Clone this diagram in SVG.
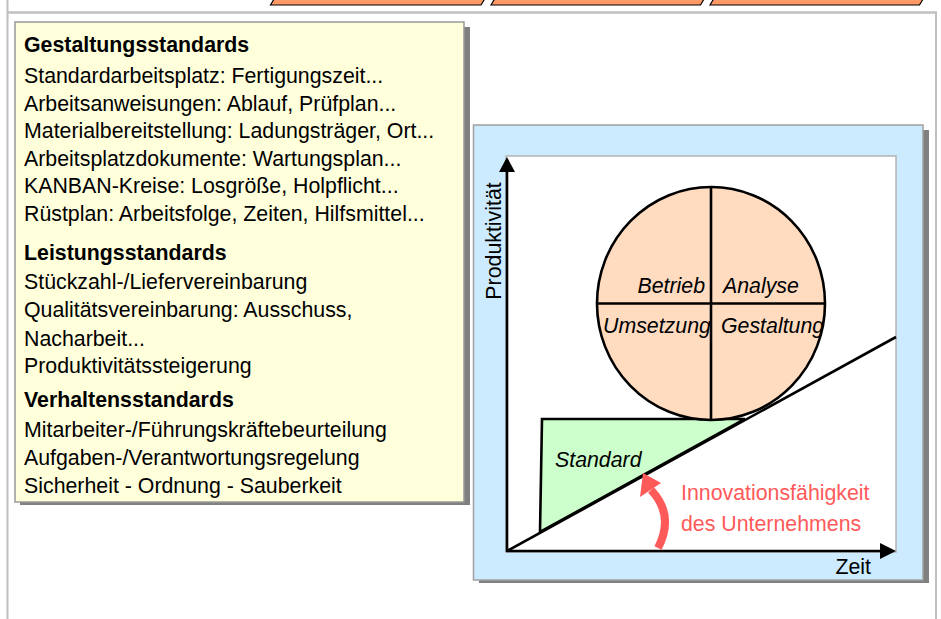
<svg xmlns="http://www.w3.org/2000/svg" width="941" height="619" viewBox="0 0 941 619">
<style>
  text { font-family: "Liberation Sans", Arial, Helvetica, sans-serif; font-size: 21.33px; fill: #000; }
  .b { font-weight: bold; }
  .i { font-style: italic; }
  .red { fill: #FF5A5A; }
  .tab { fill: #FF9966; stroke: #000; stroke-width: 1.2; }
  .shadow { fill: #808080; }
  .ln { stroke: #000; stroke-width: 2.6; fill: none; }
</style>
<defs>
  <marker id="ah" viewBox="0 0 10 10" refX="10" refY="5" markerWidth="6" markerHeight="6" orient="auto" markerUnits="userSpaceOnUse"><path d="M0,0 L10,5 L0,10 z" fill="#000"/></marker>
</defs>
<rect x="0" y="0" width="941" height="619" fill="#fff"/>

<!-- frame -->
<g id="frame" fill="none" stroke="#C0C0C0">
  <line x1="7" y1="12.5" x2="937" y2="12.5" stroke-width="2.6"/>
  <line x1="7.5" y1="0" x2="7.5" y2="619" stroke-width="2"/>
  <line x1="936" y1="12" x2="936" y2="619" stroke-width="2"/>
</g>

<!-- tabs -->
<g id="tabs">
  <polygon class="tab" points="270.5,5 481,5 487,-5 276.5,-5"/>
  <polygon class="tab" points="491,5 700.5,5 706.5,-5 497,-5"/>
  <polygon class="tab" points="710,5 919.5,5 925.5,-5 716,-5"/>
</g>

<!-- yellow standards box -->
<g id="standards">
  <rect class="shadow" x="20" y="27" width="450" height="478"/>
  <rect x="15" y="22" width="449" height="480" fill="#FFFFDC" stroke="#999" stroke-width="1.5"/>
  <text class="b" x="24" y="52">Gestaltungsstandards</text>
  <text x="24" y="83">Standardarbeitsplatz: Fertigungszeit...</text>
  <text x="24" y="110.5">Arbeitsanweisungen: Ablauf, Prüfplan...</text>
  <text x="24" y="138">Materialbereitstellung: Ladungsträger, Ort...</text>
  <text x="24" y="165.5">Arbeitsplatzdokumente: Wartungsplan...</text>
  <text x="24" y="193">KANBAN-Kreise: Losgröße, Holpflicht...</text>
  <text x="24" y="220.5">Rüstplan: Arbeitsfolge, Zeiten, Hilfsmittel...</text>
  <text class="b" x="24" y="260">Leistungsstandards</text>
  <text x="24" y="288.5">Stückzahl-/Liefervereinbarung</text>
  <text x="24" y="317">Qualitätsvereinbarung: Ausschuss,</text>
  <text x="24" y="345.5">Nacharbeit...</text>
  <text x="24" y="373">Produktivitätssteigerung</text>
  <text class="b" x="24" y="406.5">Verhaltensstandards</text>
  <text x="24" y="436.5">Mitarbeiter-/Führungskräftebeurteilung</text>
  <text x="24" y="464.5">Aufgaben-/Verantwortungsregelung</text>
  <text x="24" y="493">Sicherheit - Ordnung - Sauberkeit</text>
</g>

<!-- chart panel -->
<g id="chart-panel">
  <rect class="shadow" x="479" y="130" width="450" height="453"/>
  <rect x="473.5" y="125" width="449.5" height="455" fill="#CCEBFF" stroke="#A0A0A0" stroke-width="1.5"/>
  <rect x="506" y="156" width="390" height="396" fill="#fff" stroke="#B4B4B4" stroke-width="1.5"/>
</g>

<!-- standard wedge -->
<g id="standard">
  <polygon points="542,419 745,419 540,532" fill="#CCFFCC" stroke="#000" stroke-width="2.6" stroke-linejoin="miter"/>
  <text class="i" x="555" y="467">Standard</text>
</g>

<!-- PDCA circle -->
<g id="cycle">
  <ellipse cx="711" cy="303.5" rx="114" ry="116.5" fill="#FFDBC0" stroke="#000" stroke-width="2.6"/>
  <line class="ln" x1="597" y1="303.5" x2="825" y2="303.5"/>
  <line class="ln" x1="711" y1="187" x2="711" y2="420"/>
  <text class="i" x="705" y="293" text-anchor="end">Betrieb</text>
  <text class="i" x="723" y="293">Analyse</text>
  <text class="i" x="603" y="333">Umsetzung</text>
  <text class="i" x="721" y="333">Gestaltung</text>
</g>

<!-- connectors: axes, trend line, arrow -->
<g id="connectors">
  <line class="ln" x1="507" y1="552" x2="507" y2="170"/>
  <polygon points="507,157 499,172 515,172" fill="#000"/>
  <line class="ln" x1="506" y1="551" x2="882" y2="551"/>
  <polygon points="896,551 880,543 880,559" fill="#000"/>
  <line class="ln" x1="507" y1="551" x2="896" y2="337"/>
  <path d="M658,548 Q675,515 651,490" fill="none" stroke="#FF5A5A" stroke-width="8"/>
  <polygon points="643,473 640,497 661,483" fill="#FF5A5A"/>
</g>

<!-- axis labels -->
<g id="labels">
  <text x="0" y="0" transform="translate(501,241) rotate(-90)" text-anchor="middle">Produktivität</text>
  <text x="871" y="574" text-anchor="end">Zeit</text>
  <text class="red" x="681" y="500">Innovationsfähigkeit</text>
  <text class="red" x="681" y="531">des Unternehmens</text>
</g>
</svg>
